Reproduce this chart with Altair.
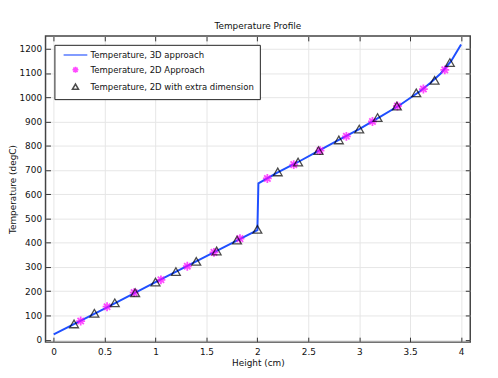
import altair as alt
import pandas as pd

# 3D approach line
line_x = [0, 0.5, 1.0, 1.5, 2.0, 2.01, 2.2, 2.4, 2.6, 2.8, 3.0, 3.2, 3.4, 3.6, 3.7, 3.8, 3.9, 4.0]
line_y = [22, 128, 237, 345, 452, 645, 690, 733, 779, 824, 869, 918, 968, 1026, 1060, 1098, 1148, 1218]

# 2D approach (stars)
star_x = [0.265, 0.524, 0.79, 1.053, 1.312, 1.574, 1.829, 2.098, 2.357, 2.615, 2.874, 3.13, 3.375, 3.63, 3.84]
star_y = [77, 136, 194, 247, 303, 360, 417, 665, 722, 780, 839, 900, 964, 1034, 1113]

# 2D with extra dimension (triangles)
tri_x = [0.2, 0.4, 0.6, 0.8, 1.0, 1.2, 1.4, 1.6, 1.8, 2.0, 2.2, 2.4, 2.6, 2.8, 3.0, 3.18, 3.37, 3.56, 3.74, 3.89]
tri_y = [65, 109, 152, 194, 238, 281, 323, 366, 411, 455, 692, 733, 780, 824, 869, 916, 964, 1018, 1070, 1143]

series_names = ["Temperature, 3D approach", "Temperature, 2D Approach", "Temperature, 2D with extra dimension"]
series_colors = ["#1f4fff", "#ff00ff", "#000000"]
STAR = "M-1,0L1,0M0,-1L0,1M-0.72,-0.72L0.72,0.72M-0.72,0.72L0.72,-0.72"
LINE_SYM = "M-4,0L4,0"
series_shapes = [LINE_SYM, STAR, "triangle-up"]

x_ticks = [0, 0.5, 1, 1.5, 2, 2.5, 3, 3.5, 4]
y_ticks = list(range(0, 1300, 100))

line_df = pd.DataFrame({"x": line_x, "y": line_y})
pts_df = pd.concat([
    pd.DataFrame({"x": star_x, "y": star_y, "series": series_names[1]}),
    pd.DataFrame({"x": tri_x, "y": tri_y, "series": series_names[2]}),
], ignore_index=True)

FONT = "DejaVu Sans"
xs = alt.Scale(domain=[-0.08, 4.09], nice=False, zero=False)
ys = alt.Scale(domain=[-10, 1253], nice=False, zero=False)

# Layer 1: line with labelled axes and grid
line = alt.Chart(line_df).mark_line(color="#1f4fff", strokeWidth=2).encode(
    x=alt.X("x:Q", scale=xs, axis=alt.Axis(
        orient="bottom", values=x_ticks, format="~g", title="Height (cm)",
        ticks=False, domain=False, grid=True, gridColor="#e6e6e6",
        labelPadding=6, titlePadding=2)),
    y=alt.Y("y:Q", scale=ys, axis=alt.Axis(
        orient="left", values=y_ticks, format="d", title="Temperature (degC)",
        ticks=False, domain=False, grid=True, gridColor="#e6e6e6",
        labelPadding=4, titlePadding=1)),
)

# Layer 2: invisible marks carrying inward bottom/left ticks
ticks_bl = alt.Chart(line_df).mark_point(opacity=0).encode(
    x=alt.X("x:Q", scale=xs, axis=alt.Axis(
        orient="bottom", values=x_ticks, labels=False, title=None, domain=False,
        grid=False, ticks=True, tickSize=5, offset=-5, tickColor="#333")),
    y=alt.Y("y:Q", scale=ys, axis=alt.Axis(
        orient="left", values=y_ticks, labels=False, title=None, domain=False,
        grid=False, ticks=True, tickSize=5, offset=-5, tickColor="#333")),
)

legend = alt.Legend(
    title=None, orient="none", legendX=9, legendY=9,
    strokeColor="#222", fillColor="white", padding=6, rowPadding=4,
    labelFont=FONT, labelFontSize=8.6, labelColor="#111", labelLimit=300,
    symbolSize=36, symbolOffset=11, labelOffset=11, symbolStrokeWidth=1.6,
)

# Layer 3: markers with inward top/right ticks
points = alt.Chart(pts_df).mark_point(filled=False, size=80).encode(
    x=alt.X("x:Q", scale=xs, axis=alt.Axis(
        orient="top", values=x_ticks, labels=False, title=None, domain=False,
        grid=False, ticks=True, tickSize=5, offset=-5, tickColor="#333")),
    y=alt.Y("y:Q", scale=ys, axis=alt.Axis(
        orient="right", values=y_ticks, labels=False, title=None, domain=False,
        grid=False, ticks=True, tickSize=5, offset=-5, tickColor="#333")),
    shape=alt.Shape("series:N", scale=alt.Scale(domain=series_names, range=series_shapes), legend=legend),
    stroke=alt.Stroke("series:N", scale=alt.Scale(domain=series_names, range=series_colors), legend=legend),
    strokeWidth=alt.condition(alt.datum.series == series_names[1], alt.value(1.8), alt.value(1.3)),
)

chart = alt.layer(line, ticks_bl, points).resolve_axis(
    x="independent", y="independent"
).properties(
    width=430, height=310,
    title=alt.TitleParams("Temperature Profile", font=FONT, fontSize=9, fontWeight="normal", color="#111", offset=5),
    autosize=alt.AutoSizeParams(type="none"),
    padding={"left": 38, "top": 26, "right": 20, "bottom": 30},
).configure_view(
    stroke="#444", strokeWidth=1.5
).configure_axis(
    labelFont=FONT, labelFontSize=9, labelColor="#111",
    titleFont=FONT, titleFontSize=9, titleFontWeight="normal", titleColor="#111",
)

chart.save("out.html", embed_options={"renderer": "svg", "actions": False})
